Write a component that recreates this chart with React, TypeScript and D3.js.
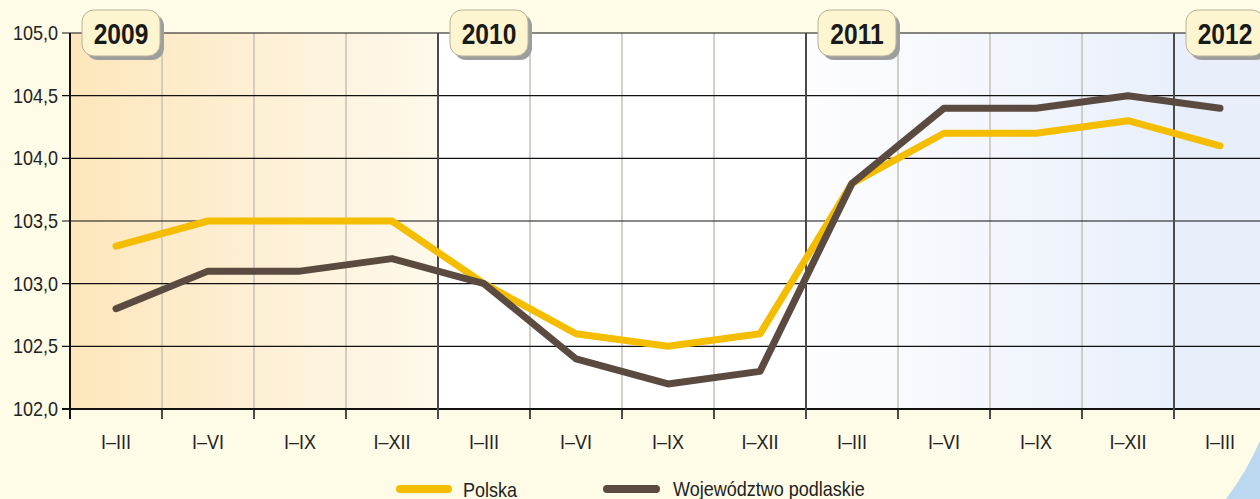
import * as d3 from 'd3';
import React from 'react';

const W = 1260;
const H = 499;

const quarters = ['I–III', 'I–VI', 'I–IX', 'I–XII', 'I–III', 'I–VI', 'I–IX', 'I–XII', 'I–III', 'I–VI', 'I–IX', 'I–XII', 'I–III'];
const years = ['2009', '2010', '2011', '2012'];
const polska = [103.3, 103.5, 103.5, 103.5, 103.0, 102.6, 102.5, 102.6, 103.8, 104.2, 104.2, 104.3, 104.1];
const podlaskie = [102.8, 103.1, 103.1, 103.2, 103.0, 102.4, 102.2, 102.3, 103.8, 104.4, 104.4, 104.5, 104.4];
const yTicks = [102.0, 102.5, 103.0, 103.5, 104.0, 104.5, 105.0];

const margin = { left: 70, top: 33, bottom: 90 };
const BAND = 92;
const FONT = '"Liberation Sans", Arial, sans-serif';

const idx = quarters.map((_, i) => i);
const x = d3.scaleBand<number>().domain(idx).range([margin.left, margin.left + BAND * quarters.length]);
const y = d3.scaleLinear().domain([102, 105]).range([H - margin.bottom, margin.top]);

const line = d3.line<number>().x((_, i) => (x(i) || 0) + x.bandwidth() / 2).y(d => y(d));
const fmt = (v: number) => v.toFixed(1).replace('.', ',');

const YearBox: React.FC<{ label: string; left: number }> = ({ label, left }) => (
  <g transform={`translate(${left},10)`}>
    <rect x={4} y={4} width={78} height={46} rx={12} fill="#9e9e9e" />
    <rect x={0} y={0} width={78} height={46} rx={12} fill="#fdf5d0" stroke="#b8b29a" strokeWidth={1} />
    <text transform="translate(39,34) scale(0.82,1)" textAnchor="middle" fontFamily={FONT} fontWeight="bold" fontSize={30} fill="#1a1a1a">
      {label}
    </text>
  </g>
);

export default function App() {
  const top = y(105);
  const bottom = y(102);
  const edges = d3.range(quarters.length + 1).map(i => margin.left + i * BAND);
  const yearStarts = years.map((_, k) => margin.left + k * 4 * BAND);

  return (
    <svg width={W} height={H} style={{ position: 'absolute', left: 0, top: 0 }}>
      <defs>
        <linearGradient id="g2009" x1="0" x2="1" y1="0" y2="0">
          <stop offset="0" stopColor="#fde6bb" />
          <stop offset="1" stopColor="#fef9ec" />
        </linearGradient>
        <linearGradient id="g2011" x1="0" x2="1" y1="0" y2="0">
          <stop offset="0" stopColor="#fdfdfe" />
          <stop offset="1" stopColor="#e9f0fb" />
        </linearGradient>
      </defs>
      <rect width={W} height={H} fill="#fefbe6" />
      <path d={`M1226,${H} Q1248,470 1262,436 L1262,${H} Z`} fill="#bcd7f0" />

      <rect x={yearStarts[0]} y={top} width={4 * BAND} height={bottom - top} fill="url(#g2009)" />
      <rect x={yearStarts[1]} y={top} width={4 * BAND} height={bottom - top} fill="#ffffff" />
      <rect x={yearStarts[2]} y={top} width={4 * BAND} height={bottom - top} fill="url(#g2011)" />
      <rect x={yearStarts[3]} y={top} width={4 * BAND} height={bottom - top} fill="#e8effa" />

      {edges.slice(1).map((e, i) =>
        (i + 1) % 4 === 0 ? null : <line key={`v${i}`} x1={e} x2={e} y1={top} y2={bottom} stroke="#c4c0b8" strokeWidth={1.5} />
      )}
      {yTicks.map(t => (
        <line key={`h${t}`} x1={margin.left - 8} x2={W} y1={y(t)} y2={y(t)} stroke="#111" strokeWidth={t === 102 ? 2 : 1.2} />
      ))}
      {edges.slice(1).map((e, i) =>
        (i + 1) % 4 === 0 ? (
          <line key={`d${i}`} x1={e} x2={e} y1={top} y2={bottom + 10} stroke="#4a4a4a" strokeWidth={2} />
        ) : (
          <line key={`t${i}`} x1={e} x2={e} y1={bottom} y2={bottom + 10} stroke="#111" strokeWidth={1.5} />
        )
      )}
      <line x1={margin.left} x2={margin.left} y1={top} y2={bottom + 10} stroke="#111" strokeWidth={2} />

      {yTicks.map(t => (
        <text key={`yl${t}`} transform={`translate(58,${y(t) + 7}) scale(0.9,1)`} textAnchor="end" fontFamily={FONT} fontSize={20} fill="#222">
          {fmt(t)}
        </text>
      ))}
      {quarters.map((q, i) => (
        <text key={`xl${i}`} transform={`translate(${(x(i) || 0) + x.bandwidth() / 2},449) scale(0.9,1)`} textAnchor="middle" fontFamily={FONT} fontSize={20} fill="#222">
          {q}
        </text>
      ))}

      <path d={line(polska) || ''} fill="none" stroke="#f5bd00" strokeWidth={7} strokeLinejoin="round" strokeLinecap="round" />
      <path d={line(podlaskie) || ''} fill="none" stroke="#5b4a40" strokeWidth={7} strokeLinejoin="round" strokeLinecap="round" />

      {years.map((yr, k) => (
        <YearBox key={yr} label={yr} left={yearStarts[k] + 12} />
      ))}

      <line x1={400} x2={448} y1={489} y2={489} stroke="#f5bd00" strokeWidth={8} strokeLinecap="round" />
      <text transform="translate(463,497) scale(0.9,1)" fontFamily={FONT} fontSize={20} fill="#222">Polska</text>
      <line x1={607} x2={656} y1={489} y2={489} stroke="#5b4a40" strokeWidth={8} strokeLinecap="round" />
      <text transform="translate(673,496) scale(0.9,1)" fontFamily={FONT} fontSize={20} fill="#222">Województwo podlaskie</text>
    </svg>
  );
}
